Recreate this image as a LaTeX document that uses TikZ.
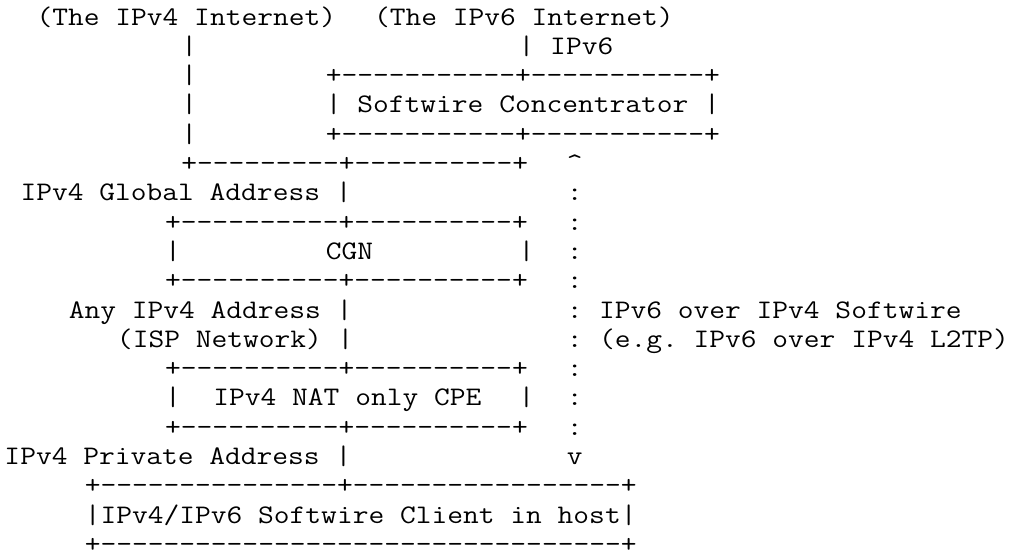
\documentclass[tikz,border=0pt]{standalone}
\usepackage{fontspec}
\setmonofont{Latin Modern Mono}[FakeStretch=1.143]
\frenchspacing
\tikzset{asc/.style={anchor=base west,inner sep=0pt,outer sep=0pt,
  font=\ttfamily\fontsize{26.78}{29.3}\selectfont}}
\begin{document}
\begin{tikzpicture}[x=16.07pt,y=-29.3pt]
\useasboundingbox (-4.5pt,25pt) rectangle (1010.5pt,-529pt);
\node[asc] (v4net) at (2,0) {(The IPv4 Internet)};
\node[asc] (v6net) at (23,0) {(The IPv6 Internet)};
\foreach \r in {1,...,4} \node[asc] (v4bar\r) at (11,\r) {|};
\node[asc] (v6bar) at (32,1) {| IPv6};
\node[asc] (sctop) at (20,2) {+-----------+-----------+};
\node[asc] (sc) at (20,3) {| Softwire Concentrator |};
\node[asc] (scbot) at (20,4) {+-----------+-----------+};
\node[asc] (gtop) at (11,5) {+---------+----------+};
\node[asc] (up) at (35,5) {\textasciicircum};
\node[asc] (glbl) at (1,6) {IPv4 Global Address |};
\foreach \r in {6,...,14} \node[asc] (dot\r) at (35,\r) {:};
\node[asc] (cgntop) at (10,7) {+----------+----------+};
\node[asc] (cgnl) at (10,8) {|};
\node[asc] (cgn) at (20,8) {CGN};
\node[asc] (cgnr) at (32,8) {|};
\node[asc] (cgnbot) at (10,9) {+----------+----------+};
\node[asc] (anyaddr) at (4,10) {Any IPv4 Address |};
\node[asc] (sw) at (37,10) {IPv6 over IPv4 Softwire};
\node[asc] (isp) at (7,11) {(ISP Network) |};
\node[asc] (l2tp) at (37,11) {(e.g. IPv6 over IPv4 L2TP)};
\node[asc] (cpetop) at (10,12) {+----------+----------+};
\node[asc] (cpel) at (10,13) {|};
\node[asc] (cpe) at (13,13) {IPv4 NAT only CPE};
\node[asc] (cper) at (32,13) {|};
\node[asc] (cpebot) at (10,14) {+----------+----------+};
\node[asc] (plbl) at (0,15) {IPv4 Private Address |};
\node[asc] (dn) at (35,15) {v};
\node[asc] (hosttop) at (5,16) {+---------------+-----------------+};
\node[asc] (host) at (5,17) {|IPv4/IPv6 Softwire Client in host|};
\node[asc] (hostbot) at (5,18) {+---------------------------------+};
\end{tikzpicture}
\end{document}
